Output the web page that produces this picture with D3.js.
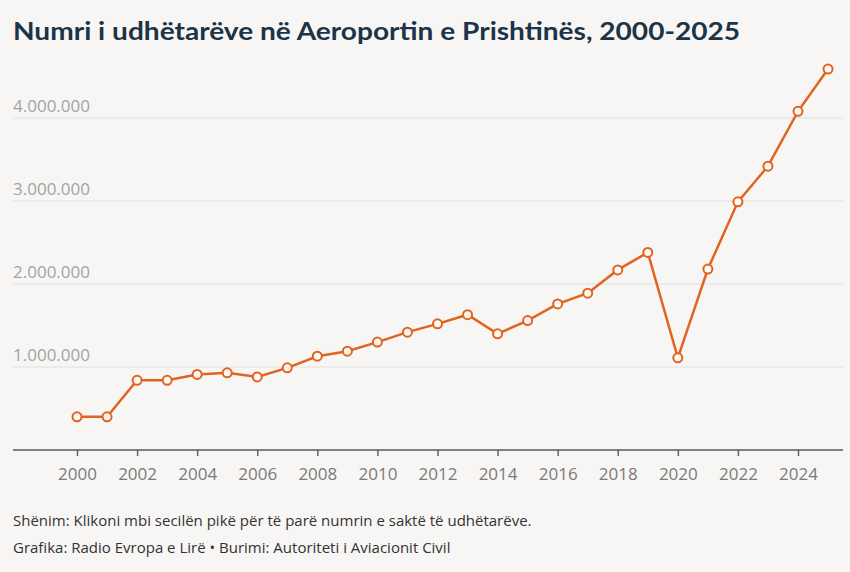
<!DOCTYPE html>
<html>
<head>
<meta charset="utf-8">
<script src="https://cdn.jsdelivr.net/npm/d3@7"></script>
<style>
  html, body { margin: 0; padding: 0; background: #f7f6f4; }
  svg { display: block; font-family: "Open Sans", Lato, sans-serif; }
</style>
</head>
<body>
<div id="chart"></div>
<script>
// Data
let years = [2000, 2001, 2002, 2003, 2004, 2005, 2006, 2007, 2008, 2009, 2010, 2011, 2012,
    2013, 2014, 2015, 2016, 2017, 2018, 2019, 2020, 2021, 2022, 2023, 2024, 2025];
let passengers = [400000, 400000, 840000, 840000, 910000, 930000, 880000, 990000, 1130000,
    1190000, 1300000, 1420000, 1520000, 1630000, 1400000, 1560000, 1760000, 1890000, 2170000,
    2380000, 1110000, 2180000, 2990000, 3420000, 4080000, 4590000];
let yTicks = [1000000, 2000000, 3000000, 4000000];
let xTicks = [2000, 2002, 2004, 2006, 2008, 2010, 2012, 2014, 2016, 2018, 2020, 2022, 2024];

let title = "Numri i udhëtarëve në Aeroportin e Prishtinës, 2000-2025";
let note = "Shënim: Klikoni mbi secilën pikë për të parë numrin e saktë të udhëtarëve.";
let credit = "Grafika: Radio Evropa e Lirë • Burimi: Autoriteti i Aviacionit Civil";

let data = years.map(function (d, i) { return { year: d, value: passengers[i] }; });

let width = 850, height = 572;
let left = 13, right = 843;
let baseY = 450;

let svg = d3.select("#chart").append("svg")
    .attr("width", width)
    .attr("height", height);

svg.append("rect").attr("width", width).attr("height", height).attr("fill", "#f7f6f4");

// scales
let x = d3.scaleLinear().domain([2000, 2024]).range([77, 798]);
let y = d3.scaleLinear().domain([0, 4000000]).range([baseY, 118]);

// title
let t = svg.append("text")
    .attr("x", left)
    .attr("y", 40)
    .attr("fill", "#1b3448")
    .attr("font-size", 25)
    .attr("font-weight", 700)
    .attr("font-family", "Lato, sans-serif")
    .text(title);
// stretch the title to the width seen in the picture
t.attr("textLength", 727).attr("lengthAdjust", "spacingAndGlyphs");

// gridlines + y labels
let grid = svg.append("g");
grid.selectAll("line")
    .data(yTicks)
    .enter()
    .append("line")
    .attr("x1", left).attr("x2", right)
    .attr("y1", function (d) { return y(d); })
    .attr("y2", function (d) { return y(d); })
    .attr("stroke", "#e2e0de")
    .attr("stroke-width", 1);

let fmt = function (d) { return d3.format(",")(d).replace(/,/g, "."); };
grid.selectAll("text")
    .data(yTicks)
    .enter()
    .append("text")
    .attr("x", left)
    .attr("y", function (d) { return y(d) - 6; })
    .attr("fill", "#a3a3a3")
    .attr("font-size", 17)
    .text(fmt);

// x axis
let xAxis = d3.axisBottom(x)
    .tickValues(xTicks)
    .tickFormat(d3.format("d"))
    .tickSize(6)
    .tickPadding(12);

let gx = svg.append("g")
    .attr("transform", "translate(0," + baseY + ")")
    .call(xAxis);
gx.select(".domain").remove();
gx.selectAll(".tick line").attr("stroke", "#666").attr("stroke-width", 1.5);
gx.selectAll(".tick text")
    .attr("fill", "#7a7a7a")
    .attr("font-size", 17)
    .attr("font-family", "'Open Sans', sans-serif");
gx.append("line")
    .attr("x1", left).attr("x2", right)
    .attr("y1", 0).attr("y2", 0)
    .attr("stroke", "#5a5a5a")
    .attr("stroke-width", 1.5);

// line
let line = d3.line()
    .x(function (d) { return x(d.year); })
    .y(function (d) { return y(d.value); });

svg.append("path")
    .datum(data)
    .attr("d", line)
    .attr("fill", "none")
    .attr("stroke", "#e0641f")
    .attr("stroke-width", 2.5);

svg.append("g")
    .selectAll("circle")
    .data(data)
    .enter()
    .append("circle")
    .attr("cx", function (d) { return x(d.year); })
    .attr("cy", function (d) { return y(d.value); })
    .attr("r", 4.5)
    .attr("fill", "#fdf9f5")
    .attr("stroke", "#e0641f")
    .attr("stroke-width", 2);

// footer
svg.append("text")
    .attr("x", left).attr("y", 526)
    .attr("fill", "#333")
    .attr("font-size", 15)
    .text(note);
svg.append("text")
    .attr("x", left).attr("y", 553)
    .attr("fill", "#333")
    .attr("font-size", 15)
    .text(credit);
</script>
</body>
</html>
